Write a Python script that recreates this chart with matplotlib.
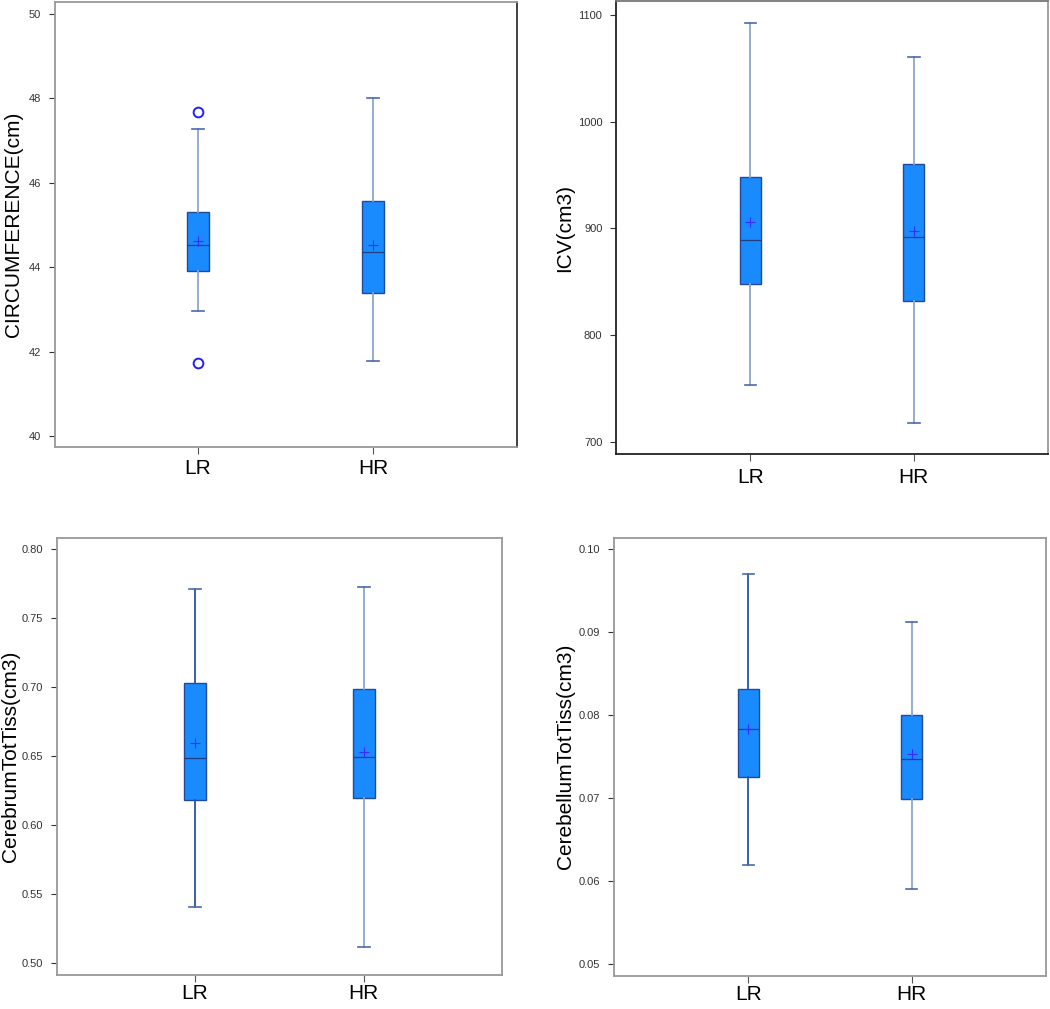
import matplotlib
matplotlib.use('Agg')
import matplotlib.pyplot as plt

plt.rcParams['font.family'] = ['Liberation Sans', 'DejaVu Sans']

groups = ['LR', 'HR']

# box stats: whislo, q1, med, q3, whishi, mean
circ_lo = [42.95, 41.78]
circ_q1 = [43.91, 43.39]
circ_med = [44.52, 44.35]
circ_q3 = [45.30, 45.56]
circ_hi = [47.27, 48.01]
circ_mean = [44.61, 44.52]
circ_fliers = [[47.68, 41.73], []]

icv_lo = [753.6, 717.5]
icv_q1 = [848.0, 832.0]
icv_med = [889.0, 892.0]
icv_q3 = [947.7, 960.0]
icv_hi = [1092.0, 1060.7]
icv_mean = [905.6, 897.6]

cer_lo = [0.5412, 0.5120]
cer_q1 = [0.6185, 0.6199]
cer_med = [0.6490, 0.6498]
cer_q3 = [0.7032, 0.6990]
cer_hi = [0.7713, 0.7727]
cer_mean = [0.6597, 0.6534]

cbl_lo = [0.0620, 0.0590]
cbl_q1 = [0.0726, 0.0699]
cbl_med = [0.0784, 0.0747]
cbl_q3 = [0.0832, 0.0800]
cbl_hi = [0.0970, 0.0912]
cbl_mean = [0.0783, 0.0753]

FILL = '#1a8aff'
EDGE = '#23499a'
LIGHT = '#8ea6cc'
DARK = '#2d52a3'


def make_stats(lo, q1, med, q3, hi, mean, fliers=None):
    out = []
    for i in range(len(groups)):
        out.append(dict(whislo=lo[i], q1=q1[i], med=med[i], q3=q3[i], whishi=hi[i],
                        mean=mean[i], fliers=fliers[i] if fliers else [], label=groups[i]))
    return out


def panel(rect, stats, ylabel, yticks, ticklabels, ylim, whisk_cols, spine_cols, labelpad=6, xpad=5):
    ax = fig.add_axes(rect)
    bp = ax.bxp(stats, positions=[1, 2], widths=0.13, showmeans=True, patch_artist=True,
                boxprops=dict(facecolor=FILL, edgecolor=EDGE, linewidth=1.0),
                medianprops=dict(color='#1f3f80', linewidth=0.9),
                meanprops=dict(marker='+', markeredgecolor='#3a2cff', markersize=7, markeredgewidth=0.8),
                flierprops=dict(marker='o', markerfacecolor='none', markeredgecolor='#2020ff',
                                markersize=7, markeredgewidth=1.4),
                capprops=dict(color='#4a6aad', linewidth=1.2),
                capwidths=0.07)
    for i, c in enumerate(whisk_cols):
        bp['whiskers'][2 * i].set(color=c, linewidth=1.3)
        bp['whiskers'][2 * i + 1].set(color=c, linewidth=1.3)
    ax.set_xlim(0.18, 2.82)
    ax.set_ylim(*ylim)
    ax.set_yticks(yticks)
    ax.set_yticklabels(ticklabels, fontsize=8, color='#333333')
    ax.set_xticks([1, 2])
    ax.set_xticklabels(groups, fontsize=15)
    ax.tick_params(axis='y', length=4, width=0.8, color='#333333', pad=6)
    ax.tick_params(axis='x', length=5, width=0.8, color='#555555', pad=xpad)
    ax.set_ylabel(ylabel, fontsize=15, labelpad=labelpad)
    for side, c in spine_cols.items():
        ax.spines[side].set_color(c)
        ax.spines[side].set_linewidth(1.3)
    return ax


fig = plt.figure(figsize=(10.5, 10.09), dpi=100)

panel([0.052, 0.557, 0.440, 0.441], make_stats(circ_lo, circ_q1, circ_med, circ_q3, circ_hi, circ_mean, circ_fliers),
      'CIRCUMFERENCE(cm)', [40, 42, 44, 46, 48, 50], ['40', '42', '44', '46', '48', '50'],
      (39.74, 50.28), [LIGHT, LIGHT],
      {'left': '#999999', 'bottom': '#999999', 'top': '#999999', 'right': '#333333'},
      labelpad=4, xpad=4)

panel([0.587, 0.550, 0.411, 0.449], make_stats(icv_lo, icv_q1, icv_med, icv_q3, icv_hi, icv_mean),
      'ICV(cm3)', [700, 800, 900, 1000, 1100], ['700', '800', '900', '1000', '1100'],
      (688.8, 1112.8), [LIGHT, LIGHT],
      {'left': '#222222', 'bottom': '#222222', 'top': '#777777', 'right': '#999999'},
      labelpad=3, xpad=5)

panel([0.054, 0.034, 0.424, 0.433], make_stats(cer_lo, cer_q1, cer_med, cer_q3, cer_hi, cer_mean),
      'CerebrumTotTiss(cm3)', [0.50, 0.55, 0.60, 0.65, 0.70, 0.75, 0.80],
      ['0.50', '0.55', '0.60', '0.65', '0.70', '0.75', '0.80'],
      (0.4918, 0.8084), [DARK, LIGHT],
      {'left': '#999999', 'bottom': '#999999', 'top': '#999999', 'right': '#999999'},
      labelpad=1, xpad=2)

panel([0.585, 0.033, 0.411, 0.434], make_stats(cbl_lo, cbl_q1, cbl_med, cbl_q3, cbl_hi, cbl_mean),
      'CerebellumTotTiss(cm3)', [0.05, 0.06, 0.07, 0.08, 0.09, 0.10],
      ['0.05', '0.06', '0.07', '0.08', '0.09', '0.10'],
      (0.0486, 0.1014), [DARK, LIGHT],
      {'left': '#999999', 'bottom': '#999999', 'top': '#999999', 'right': '#999999'},
      labelpad=3, xpad=2)

fig.savefig('out.png', dpi=100)
